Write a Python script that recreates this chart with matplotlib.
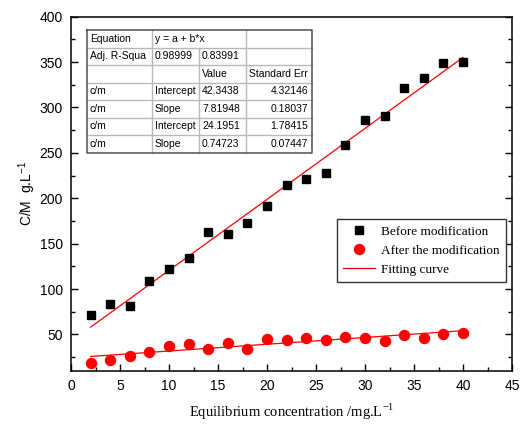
import numpy as np
import matplotlib
matplotlib.use('Agg')
import matplotlib.pyplot as plt
from matplotlib.lines import Line2D

# data
x = np.arange(2, 42, 2)
before = [71, 84, 81, 109, 122, 134, 163, 161, 173, 191,
          215, 221, 228, 259, 286, 291, 321, 333, 349, 350]
after = [19, 22, 26, 31, 37, 39, 34, 40, 34, 45,
         44, 46, 44, 47, 46, 43, 49, 46, 50, 51]

# fit results (from the table in the chart)
fit_before = (42.3438, 7.81948)
fit_after = (24.1951, 0.74723)

table_rows = [
    ['Equation', 'y = a + b*x', None, ''],
    ['Adj. R-Squa', '0.98999', '0.83991', ''],
    ['', '', 'Value', 'Standard Err'],
    ['c/m', 'Intercept', '42.3438', '4.32146'],
    ['c/m', 'Slope', '7.81948', '0.18037'],
    ['c/m', 'Intercept', '24.1951', '1.78415'],
    ['c/m', 'Slope', '0.74723', '0.07447'],
]

W, H = 524, 428
fig = plt.figure(figsize=(W / 100, H / 100), dpi=100)
ax = fig.add_axes([71 / W, 1 - 370.7 / H, (512 - 71) / W, (370.7 - 16.7) / H])

sans = 'Liberation Sans'
serif = 'Liberation Serif'

xf = np.array([2, 40])
ax.plot(x, before, 's', color='black', ms=6.3, label='Before modification', zorder=3)
ax.plot(x, after, 'o', color='#ff0000', ms=7.2, label='After the modification', zorder=3)
ax.plot(xf, fit_before[0] + fit_before[1] * xf, '-', color='#ff0000', lw=0.9,
        label='Fitting curve', zorder=2)
ax.plot(xf, fit_after[0] + fit_after[1] * xf, '-', color='#ff0000', lw=0.9, zorder=2)

ax.set_xlim(0, 45)
ax.set_ylim(10, 400)
ax.set_xticks(np.arange(0, 50, 5))
ax.set_xticks(np.arange(2.5, 45, 5), minor=True)
ax.set_yticks(np.arange(50, 450, 50))
ax.set_yticks(np.arange(25, 400, 50), minor=True)
ax.tick_params(which='both', direction='in', top=False, right=True, width=1)
ax.tick_params(which='major', length=5, pad=6, labelsize=10)
ax.tick_params(which='minor', length=3)
for lab in ax.get_xticklabels() + ax.get_yticklabels():
    lab.set_fontfamily(sans)
for s in ax.spines.values():
    s.set_linewidth(1.1)

ax.set_xlabel('Equilibrium concentration /mg.L$^{\\mathregular{-1}}$', family=serif,
              fontsize=10.5, labelpad=6)
ax.set_ylabel('C/M  g.L$^{\\mathregular{-1}}$', family=sans, fontsize=10, labelpad=1)

leg = ax.legend(loc='upper right', bbox_to_anchor=(506 / W, 1 - 219 / H),
                bbox_transform=fig.transFigure, borderaxespad=0,
                prop={'family': serif, 'size': 9.5}, fancybox=False,
                edgecolor='#333333', framealpha=1, handlelength=2.4,
                handletextpad=0.45, borderpad=0.5, labelspacing=0.5)
leg.get_frame().set_linewidth(1.0)

# parameter table
col_x = [87, 152, 199, 246, 312]
top, bottom = 30, 152.7
nrow = len(table_rows)
rh = (bottom - top) / nrow


def fx(px):
    return px / W


def fy(py):
    return 1 - py / H


grey = '#b8b8b8'
for i in range(1, nrow):
    y = top + i * rh
    fig.add_artist(Line2D([fx(col_x[0]), fx(col_x[-1])], [fy(y), fy(y)],
                          color=grey, lw=1.0))
for j in range(1, len(col_x) - 1):
    y0 = top + rh if j == 2 else top
    fig.add_artist(Line2D([fx(col_x[j]), fx(col_x[j])], [fy(y0), fy(bottom)],
                          color=grey, lw=1.0))
# outer border
fig.add_artist(Line2D([fx(col_x[0]), fx(col_x[-1]), fx(col_x[-1]), fx(col_x[0]), fx(col_x[0])],
                      [fy(top), fy(top), fy(bottom), fy(bottom), fy(top)],
                      color='#505050', lw=1.1))

for i, row in enumerate(table_rows):
    yc = fy(top + (i + 0.5) * rh)
    for j, txt in enumerate(row):
        if not txt:
            continue
        if j == 3 and i > 2:
            fig.text(fx(col_x[4] - 4), yc, txt, ha='right', va='center',
                     family=sans, fontsize=7.5)
        else:
            fig.text(fx(col_x[j] + 3), yc, txt, ha='left', va='center',
                     family=sans, fontsize=7.5)

fig.savefig('out.png', dpi=100)
